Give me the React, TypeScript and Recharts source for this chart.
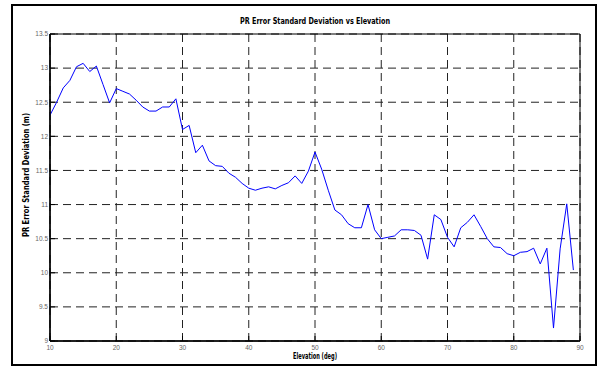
import React from 'react';
import {
  LineChart,
  Line,
  XAxis,
  YAxis,
  CartesianGrid,
  ReferenceArea,
} from 'recharts';

const elevations: number[] = [
  10, 11, 12, 13, 14, 15, 16, 17, 18, 19,
  20, 21, 22, 23, 24, 25, 26, 27, 28, 29,
  30, 31, 32, 33, 34, 35, 36, 37, 38, 39,
  40, 41, 42, 43, 44, 45, 46, 47, 48, 49,
  50, 51, 52, 53, 54, 55, 56, 57, 58, 59,
  60, 61, 62, 63, 64, 65, 66, 67, 68, 69,
  70, 71, 72, 73, 74, 75, 76, 77, 78, 79,
  80, 81, 82, 83, 84, 85, 86, 87, 88, 89,
];

const prErrorStd: number[] = [
  12.31, 12.5, 12.71, 12.82, 13.02, 13.07, 12.95, 13.03, 12.76, 12.49,
  12.7, 12.66, 12.62, 12.53, 12.43, 12.37, 12.37, 12.43, 12.43, 12.55,
  12.1, 12.16, 11.76, 11.87, 11.64, 11.57, 11.56, 11.46, 11.4, 11.31,
  11.24, 11.21, 11.24, 11.26, 11.23, 11.28, 11.32, 11.42, 11.31, 11.49,
  11.77, 11.52, 11.21, 10.92, 10.85, 10.72, 10.66, 10.66, 11.0, 10.63,
  10.5, 10.52, 10.54, 10.63, 10.63, 10.62, 10.55, 10.2, 10.85, 10.78,
  10.52, 10.38, 10.66, 10.74, 10.85, 10.68, 10.5, 10.38, 10.37, 10.28,
  10.25, 10.3, 10.31, 10.36, 10.13, 10.36, 9.19, 10.35, 11.01, 10.04,
];

const xTicks: number[] = [10, 20, 30, 40, 50, 60, 70, 80, 90];
const yTicks: number[] = [9, 9.5, 10, 10.5, 11, 11.5, 12, 12.5, 13, 13.5];

const titleText = 'PR Error Standard Deviation vs Elevation';
const xLabelText = 'Elevation (deg)';
const yLabelText = 'PR Error Standard Deviation (m)';

const data = elevations.map((e, i) => ({ elev: e, std: prErrorStd[i] }));

const labelFont = "'DejaVu Sans', 'Liberation Sans', sans-serif";
const tickFont = { fontSize: 6.5, fill: '#666', fontFamily: "'Liberation Sans', Arial, sans-serif" };

export default function App() {
  return (
    <div style={{ position: 'absolute', left: 0, top: 0, width: 599, height: 367, background: '#fff' }}>
      <div
        style={{
          position: 'absolute',
          left: 11,
          top: 4,
          width: 586,
          height: 362,
          boxSizing: 'border-box',
          border: '2px solid #000',
        }}
      />
      <div style={{ position: 'absolute', left: 0, top: 0 }}>
        <LineChart
          width={599}
          height={367}
          data={data}
          margin={{ top: 34, right: 19, bottom: 0, left: 10 }}
        >
          <CartesianGrid
            stroke="#222"
            strokeDasharray="8 5"
            strokeWidth={1}
            verticalValues={xTicks}
            horizontalValues={yTicks}
          />
          <XAxis
            dataKey="elev"
            type="number"
            domain={[10, 90]}
            ticks={xTicks}
            height={26}
            tickSize={-5}
            tickMargin={9}
            tick={tickFont}
            axisLine={{ stroke: '#000', strokeWidth: 1.5 }}
            tickLine={{ stroke: '#000' }}
            interval={0}
          />
          <YAxis
            type="number"
            domain={[9, 13.5]}
            ticks={yTicks}
            width={40}
            tickSize={-5}
            tickMargin={7}
            tick={tickFont}
            axisLine={{ stroke: '#000', strokeWidth: 1.5 }}
            tickLine={{ stroke: '#000' }}
            interval={0}
          />
          <ReferenceArea
            x1={10}
            x2={90}
            y1={9}
            y2={13.5}
            fill="none"
            stroke="#000"
            strokeWidth={1}
            ifOverflow="visible"
          />
          <Line
            type="linear"
            dataKey="std"
            stroke="#0000FF"
            strokeWidth={1}
            dot={false}
            isAnimationActive={false}
          />
          <text
            x={315}
            y={24}
            textAnchor="middle"
            textLength={150}
            lengthAdjust="spacingAndGlyphs"
            style={{ fontFamily: labelFont, fontWeight: 'bold', fontSize: 9.5, fill: '#000' }}
          >
            {titleText}
          </text>
          <text
            x={315}
            y={359}
            textAnchor="middle"
            textLength={44}
            lengthAdjust="spacingAndGlyphs"
            style={{ fontFamily: labelFont, fontWeight: 'bold', fontSize: 8.5, fill: '#000' }}
          >
            {xLabelText}
          </text>
          <text
            x={29}
            y={175}
            textAnchor="middle"
            textLength={124}
            lengthAdjust="spacingAndGlyphs"
            transform="rotate(-90 29 175)"
            style={{ fontFamily: labelFont, fontWeight: 'bold', fontSize: 8.5, fill: '#000' }}
          >
            {yLabelText}
          </text>
        </LineChart>
      </div>
    </div>
  );
}
